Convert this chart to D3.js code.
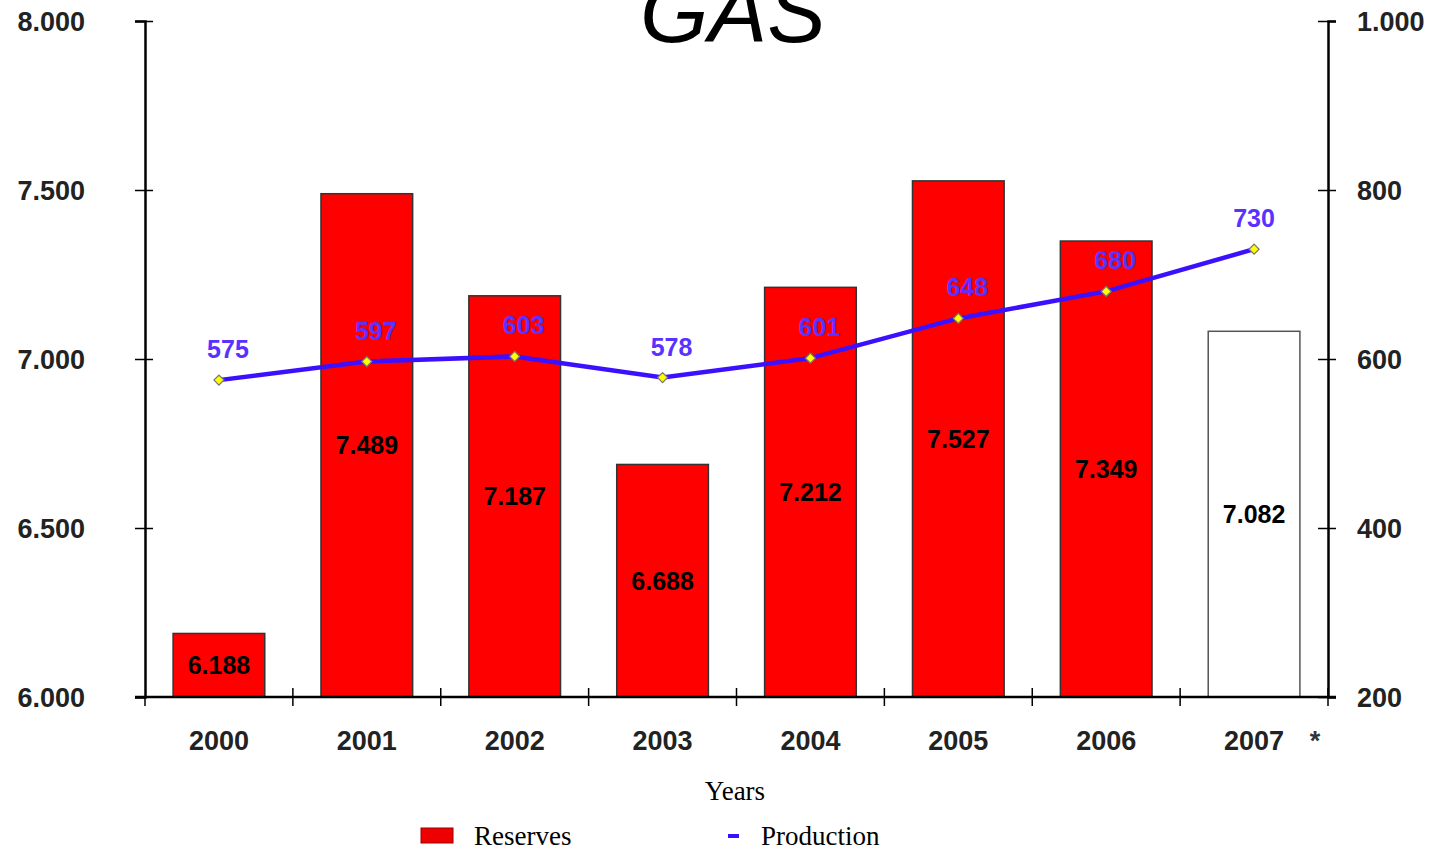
<!DOCTYPE html>
<html>
<head>
<meta charset="utf-8">
<script src="https://cdn.jsdelivr.net/npm/d3@7"></script>
<style>
  body { margin: 0; background: #fff; }
  text { font-family: "Liberation Sans", Arial, sans-serif; }
</style>
</head>
<body>
<script>
// chart data
var years = ['2000', '2001', '2002', '2003', '2004', '2005', '2006', '2007'];
var reserves = [6188, 7489, 7187, 6688, 7212, 7527, 7349, 7082];
var production = [575, 597, 603, 578, 601, 648, 680, 730];
var estimated = ['2007'];
var leftTicks = [6000, 6500, 7000, 7500, 8000];
var rightTicks = [200, 400, 600, 800, 1000];

var W = 1437, H = 850;
var x0 = 145, x1 = 1328, yTop = 21, yBot = 697;

var loc = d3.formatLocale({decimal: ',', thousands: '.', grouping: [3], currency: ['', '']});
var fmt = loc.format(',d');

var svg = d3.select('body').append('svg')
	.attr('width', W).attr('height', H);

var x = d3.scaleBand().domain(years).range([x0, x1])
	.paddingInner(0.38).paddingOuter(0.19);
var yL = d3.scaleLinear().domain([6000, 8000]).range([yBot, yTop]);
var yR = d3.scaleLinear().domain([200, 1000]).range([yBot, yTop]);

// title
svg.append('text').attr('x', 733).attr('y', 42)
	.attr('text-anchor', 'middle').attr('font-size', '88px')
	.attr('font-style', 'italic').attr('fill', '#000').text('GAS');

// bars
svg.append('g').selectAll('rect')
	.data(years)
	.enter().append('rect')
	.attr('x', function(d){return x(d);})
	.attr('width', x.bandwidth())
	.attr('y', function(d, i){return yL(reserves[i]);})
	.attr('height', function(d, i){return yBot - yL(reserves[i]);})
	.attr('fill', function(d){return estimated.indexOf(d) >= 0 ? '#fff' : '#ff0000';})
	.attr('stroke', function(d){return estimated.indexOf(d) >= 0 ? '#555' : '#333';})
	.attr('stroke-width', 1.5);

// bar labels
svg.append('g').selectAll('text')
	.data(years)
	.enter().append('text')
	.attr('x', function(d){return x(d) + x.bandwidth() / 2;})
	.attr('y', function(d, i){return (yL(reserves[i]) + yBot) / 2 + 9;})
	.attr('text-anchor', 'middle').attr('font-size', '25px').attr('font-weight', 'bold')
	.attr('fill', '#000')
	.text(function(d, i){return fmt(reserves[i]);});

// left axis
var gl = svg.append('g').attr('transform', 'translate(' + x0 + ',0)')
	.call(d3.axisLeft(yL).tickValues(leftTicks).tickFormat(fmt).tickSizeOuter(0).tickSize(10));
gl.selectAll('.tick line').attr('x1', 8).attr('x2', -10).attr('stroke-width', 1.5);
gl.select('.tick:first-of-type line').attr('x1', 0);
gl.selectAll('.tick text').attr('x', -60).attr('dy', '0.35em')
	.attr('font-size', '27px').attr('font-weight', 'bold').attr('fill', '#222')
	.style('font-family', '"Liberation Sans", Arial, sans-serif');
gl.select('.domain').attr('stroke-width', 2.5);

// right axis
var gr = svg.append('g').attr('transform', 'translate(' + x1 + ',0)')
	.call(d3.axisRight(yR).tickValues(rightTicks).tickFormat(fmt).tickSizeOuter(0).tickSize(8));
gr.selectAll('.tick line').attr('x1', -10).attr('x2', 8).attr('stroke-width', 1.5);
gr.selectAll('.tick text').attr('x', 29).attr('dy', '0.35em').attr('text-anchor', 'start')
	.attr('font-size', '27px').attr('font-weight', 'bold').attr('fill', '#222')
	.style('font-family', '"Liberation Sans", Arial, sans-serif');
gr.select('.domain').attr('stroke-width', 2.5);

// x axis
var gx = svg.append('g').attr('transform', 'translate(0,' + yBot + ')');
gx.append('line').attr('x1', x0 - 10).attr('x2', x1 + 8)
	.attr('stroke', '#000').attr('stroke-width', 2.5);
var edges = years.map(function(d){return x(d) - x.step() * 0.19;});
edges.push(x1);
gx.selectAll('.edge').data(edges).enter().append('line')
	.attr('class', 'edge')
	.attr('x1', function(d){return d;}).attr('x2', function(d){return d;})
	.attr('y1', function(d, i){return i == 0 ? 0 : -9;}).attr('y2', 9)
	.attr('stroke', '#000').attr('stroke-width', 1.5);
gx.selectAll('.lbl').data(years).enter().append('text')
	.attr('class', 'lbl')
	.attr('x', function(d){return x(d) + x.bandwidth() / 2;})
	.attr('y', 53)
	.attr('text-anchor', 'middle').attr('font-size', '27px').attr('font-weight', 'bold')
	.attr('fill', '#222')
	.text(function(d){return d;});
gx.selectAll('.star').data(estimated).enter().append('text')
	.attr('class', 'star')
	.attr('x', function(d){return x(d) + x.bandwidth() / 2 + 61;})
	.attr('y', 53)
	.attr('text-anchor', 'middle').attr('font-size', '27px').attr('font-weight', 'bold')
	.attr('fill', '#333').text('*');

// production line
var cx = function(i){return x(years[i]) + x.bandwidth() / 2;};
var line = d3.line()
	.x(function(d, i){return cx(i);})
	.y(function(d){return yR(d);});
svg.append('path').datum(production)
	.attr('d', line).attr('fill', 'none')
	.attr('stroke', '#3a10ff').attr('stroke-width', 4.5);
svg.append('g').selectAll('path')
	.data(production)
	.enter().append('path')
	.attr('d', d3.symbol().type(d3.symbolSquare).size(50))
	.attr('transform', function(d, i){return 'translate(' + cx(i) + ',' + yR(d) + ') rotate(45)';})
	.attr('fill', '#ffff00').attr('stroke', '#777').attr('stroke-width', 1.2);
svg.append('g').selectAll('text')
	.data(production)
	.enter().append('text')
	.attr('x', function(d, i){return cx(i) + (i == production.length - 1 ? 0 : 9);})
	.attr('y', function(d){return yR(d) - 22;})
	.attr('text-anchor', 'middle').attr('font-size', '25px').attr('font-weight', 'bold')
	.attr('fill', '#5a32ff')
	.text(function(d){return d;});

// x title
svg.append('text').attr('x', 735).attr('y', 800)
	.attr('text-anchor', 'middle').attr('font-size', '27px')
	.style('font-family', '"Liberation Serif", "Times New Roman", serif')
	.attr('fill', '#000').text('Years');

// legend
var lg = svg.append('g');
lg.append('rect').attr('x', 421).attr('y', 828).attr('width', 32).attr('height', 15)
	.attr('fill', '#ee0000').attr('stroke', '#990000').attr('stroke-width', 1);
lg.append('text').attr('x', 474).attr('y', 845).attr('font-size', '27px')
	.style('font-family', '"Liberation Serif", "Times New Roman", serif')
	.text('Reserves');
lg.append('rect').attr('x', 728).attr('y', 834).attr('width', 11).attr('height', 4)
	.attr('fill', '#3a10ff');
lg.append('text').attr('x', 761).attr('y', 845).attr('font-size', '27px')
	.style('font-family', '"Liberation Serif", "Times New Roman", serif')
	.text('Production');
</script>
</body>
</html>
